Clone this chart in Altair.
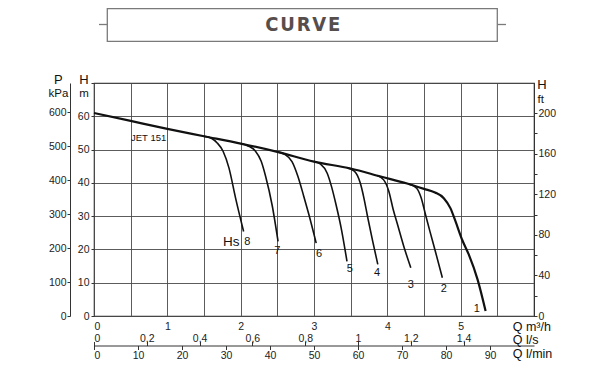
import altair as alt
import pandas as pd

# ---------------- data ----------------
main_q = [0, 0.5, 1.0, 1.5, 2.0, 2.5, 3.0, 3.5, 3.91, 4.27, 4.5, 4.65, 4.77, 4.86, 4.93, 5.02, 5.11, 5.23, 5.34]
main_h = [61.0, 58.6, 56.2, 54.0, 51.8, 49.3, 46.4, 44.3, 41.9, 39.8, 38.2, 37.1, 35.4, 32.4, 28.4, 22.9, 18.5, 11.0, 1.5]

branch_names = ["8", "7", "6", "5", "4", "3", "2"]
branch_q = [
    [1.5, 1.6, 1.68, 1.76, 1.84, 1.93, 2.04],
    [2.0, 2.1, 2.2, 2.28, 2.34, 2.43, 2.51],
    [2.5, 2.6, 2.7, 2.78, 2.86, 2.93, 3.03],
    [3.0, 3.09, 3.18, 3.24, 3.30, 3.37, 3.45],
    [3.45, 3.55, 3.63, 3.68, 3.73, 3.80, 3.87],
    [3.86, 3.95, 4.02, 4.08, 4.14, 4.23, 4.32],
    [4.30, 4.40, 4.46, 4.52, 4.58, 4.66, 4.75],
]
branch_h = [
    [54.0, 53.4, 52.0, 49.5, 44.5, 35.5, 25.4],
    [51.8, 51.1, 49.6, 46.5, 42.0, 33.2, 22.4],
    [49.3, 48.6, 46.4, 42.0, 36.0, 30.5, 21.9],
    [46.4, 45.6, 42.9, 38.8, 33.5, 26.5, 16.4],
    [44.5, 43.5, 40.0, 35.5, 29.9, 22.5, 15.5],
    [42.2, 40.9, 37.5, 32.0, 27.4, 20.5, 14.5],
    [39.6, 38.4, 35.6, 30.5, 25.5, 19.0, 11.5],
]

label_text = ["Hs", "8", "7", "6", "5", "4", "3", "2", "1", "JET 151"]
label_q = [1.87, 2.09, 2.50, 3.07, 3.49, 3.86, 4.32, 4.77, 5.22, 0.745]
label_h = [22.1, 22.1, 19.5, 18.5, 14.0, 13.0, 9.2, 8.0, 2.0, 53.5]
label_size = [13.5, 11, 11, 11, 11, 11, 11, 11, 11, 9.5]

m3h_ticks = [i * 0.5 for i in range(13)]
h_m_ticks = [0, 10, 20, 30, 40, 50, 60, 70]
h_ft_ticks = [0, 20, 40, 60, 80, 100, 120, 140, 160, 180, 200]
p_kpa_ticks = [0, 100, 200, 300, 400, 500, 600]
q_ls_ticks = [0, 0.2, 0.4, 0.6, 0.8, 1.0, 1.2, 1.4]
q_lmin_ticks = [0, 10, 20, 30, 40, 50, 60, 70, 80, 90]

FONT = "Liberation Sans"
INK = "#111111"

# ---------------- frames ----------------
main_df = pd.DataFrame({"Q": main_q, "H": main_h})
rows = []
for name, qs, hs in zip(branch_names, branch_q, branch_h):
    for q, h in zip(qs, hs):
        rows.append({"Q": q, "H": h, "curve": name})
branch_df = pd.DataFrame(rows)
label_df = pd.DataFrame({"Q": label_q, "H": label_h, "t": label_text, "fs": label_size})
one = pd.DataFrame({"a": [0]})

x_axis = alt.Axis(values=m3h_ticks, grid=True, domain=False, ticks=False,
                  labelPadding=5, title=None, format="~g",
                  labelExpr="(datum.value % 1 == 0 && datum.value < 6) ? datum.label : ''")
y_axis = alt.Axis(values=h_m_ticks, grid=True, domain=False, tickSize=3,
                  labelPadding=2, title=None, format="d",
                  labelExpr="datum.value < 70 ? datum.label : ''")
x_scale = alt.Scale(domain=[0, 6], nice=False, zero=False)
y_scale = alt.Scale(domain=[0, 70], nice=False)


def xq():
    return alt.X("Q:Q", scale=x_scale, axis=x_axis)


def yh():
    return alt.Y("H:Q", scale=y_scale, axis=y_axis)


main_line = alt.Chart(main_df).mark_line(color=INK, strokeWidth=2.2, interpolate="monotone").encode(
    x=xq(), y=yh())
branches = alt.Chart(branch_df).mark_line(color=INK, strokeWidth=1.6, interpolate="monotone").encode(
    x=xq(), y=yh(), detail="curve:N")
labels = alt.Chart(label_df).mark_text(font=FONT, color=INK).encode(
    x=xq(), y=yh(), text="t:N", size=alt.Size("fs:Q", scale=None, legend=None))


def ptext(txt, x, y, size, align="center", weight="normal", font=FONT, color=INK):
    return alt.Chart(one).mark_text(text=txt, fontSize=size, align=align, baseline="middle",
                                    fontWeight=weight, font=font, color=color).encode(
        x=alt.value(x), y=alt.value(y))


title_box = alt.Chart(one).mark_rect(fill="white", stroke="#7a7a7a", strokeWidth=1.3).encode(
    x=alt.value(13.3), x2=alt.value(403.3), y=alt.value(-74.3), y2=alt.value(-41.6))
stub_l = alt.Chart(one).mark_rule(color="#7a7a7a", strokeWidth=1.3).encode(
    x=alt.value(5), x2=alt.value(13.3), y=alt.value(-58.5))
stub_r = alt.Chart(one).mark_rule(color="#7a7a7a", strokeWidth=1.3).encode(
    x=alt.value(403.3), x2=alt.value(412), y=alt.value(-58.5))

decor = [
    title_box, stub_l, stub_r,
    ptext("C\u200aU\u200aR\u200aV\u200aE", 208.8, -58.5, 20, weight="bold",
          font="DejaVu Sans Condensed", color="#564e4d"),
    ptext("P", -35.7, -3.5, 13),
    ptext("kPa", -35.5, 11, 11.5),
    ptext("H", -10, -3.5, 13),
    ptext("m", -10, 11, 11.5),
    ptext("H", 443.3, 1.7, 13, align="left"),
    ptext("ft", 443.5, 17.4, 11.5, align="left"),
    ptext("Q m³/h", 418.7, 244, 12.5, align="left"),
    ptext("Q l/s", 418.7, 257.3, 12.5, align="left"),
    ptext("Q l/min", 418.7, 270.8, 12.5, align="left"),
]

main = alt.layer(main_line, branches, labels, *decor)

ft_layer = alt.Chart(pd.DataFrame({"ft": h_ft_ticks})).mark_point(opacity=0).encode(
    y=alt.Y("ft:Q", scale=alt.Scale(domain=[0, 70 / 0.3048], nice=False),
            axis=alt.Axis(orient="right", values=h_ft_ticks, grid=False, tickSize=3,
                          labelPadding=1, title=None, domain=True, format="d",
                          labelExpr="datum.value % 40 == 0 ? datum.label : ''")))
kpa_layer = alt.Chart(pd.DataFrame({"p": p_kpa_ticks})).mark_point(opacity=0).encode(
    y=alt.Y("p:Q", scale=alt.Scale(domain=[0, 686], nice=False),
            axis=alt.Axis(orient="left", offset=24, values=p_kpa_ticks, grid=False, tickSize=3,
                          labelPadding=1, title=None, domain=True, format="d")))
ls_layer = alt.Chart(pd.DataFrame({"ls": q_ls_ticks})).mark_point(opacity=0).encode(
    x=alt.X("ls:Q", scale=alt.Scale(domain=[0, 6 / 3.6], nice=False),
            axis=alt.Axis(orient="top", offset=-262.5, values=q_ls_ticks, grid=False, tickSize=4,
                          labelPadding=-2, title=None, domain=False,
                          labelExpr="replace(format(datum.value, '~g'), '.', ',')")))
lmin_layer = alt.Chart(pd.DataFrame({"lm": q_lmin_ticks})).mark_point(opacity=0).encode(
    x=alt.X("lm:Q", scale=alt.Scale(domain=[0, 100], nice=False),
            axis=alt.Axis(orient="bottom", offset=29.5, values=q_lmin_ticks, grid=False, tickSize=4,
                          labelPadding=1, title=None, domain=True, format="d")))

chart = alt.layer(main, ft_layer, kpa_layer, ls_layer, lmin_layer).resolve_scale(
    x="independent", y="independent"
).properties(
    width=440, height=233,
    padding={"left": 86, "top": 75, "right": 58, "bottom": 52},
    autosize=alt.AutoSizeParams(type="none"),
    background="white",
).configure_view(
    stroke="#333333", strokeWidth=1.2
).configure_axis(
    labelFont=FONT, labelFontSize=10.5, labelColor="#222222",
    tickColor="#333333", domainColor="#333333", gridColor="#4a4a4a", gridWidth=0.9,
    gridOpacity=1,
)

chart.save("out.html", embed_options={"renderer": "svg", "actions": False})
